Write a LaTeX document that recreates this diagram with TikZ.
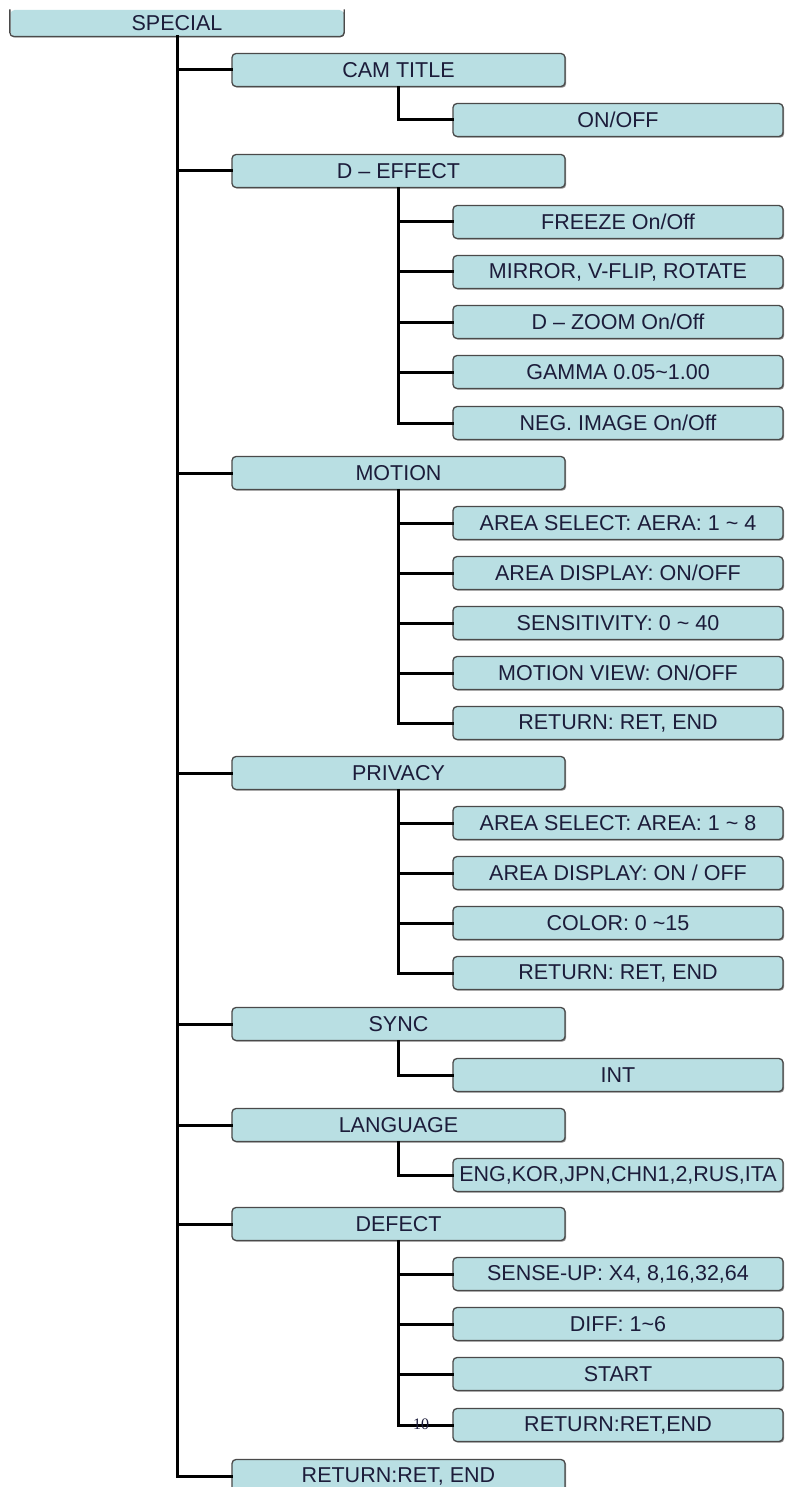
\documentclass[tikz,border=0pt]{standalone}
\usepackage{fontspec}
\setmainfont{Liberation Sans}
\newfontfamily\numfont{Liberation Serif}
\usetikzlibrary{calc,shadows}
\definecolor{boxfill}{HTML}{B9DFE3}
\definecolor{boxline}{HTML}{4A4A4A}
\definecolor{boxtext}{HTML}{1C1C3A}

\begin{document}
\begin{tikzpicture}[x=1pt,y=-1pt,
    menu/.style={rectangle,rounded corners=4pt,fill=boxfill,draw=boxline,line width=1.3pt,
      minimum height=33pt,inner sep=0pt,text=boxtext,font=\fontsize{21.5}{24}\selectfont,
      drop shadow={shadow xshift=1.2pt,shadow yshift=-1.2pt,fill=black!55,opacity=.8}},
    lvlone/.style={menu,minimum width=333pt},
    lvltwo/.style={menu,minimum width=330pt},
    link/.style={line width=3pt,line cap=rect}]
      \useasboundingbox (0,0) rectangle (785,1487);
      % root
      \node [menu,draw=none,minimum width=333pt,minimum height=26pt] (special) at (177,23) {SPECIAL};
      \draw [boxline,line width=1.3pt,rounded corners=4pt]
        (special.north west) -- (special.south west) -- (special.south east) -- (special.north east);
      % first level
      \node [lvlone] (cam)  at (398.5,  70) {CAM TITLE};
      \node [lvlone] (deff) at (398.5, 171) {D -- EFFECT};
      \node [lvlone] (mot)  at (398.5, 473) {MOTION};
      \node [lvlone] (priv) at (398.5, 773) {PRIVACY};
      \node [lvlone] (sync) at (398.5,1024) {SYNC};
      \node [lvlone] (lang) at (398.5,1125) {LANGUAGE};
      \node [lvlone] (dfct) at (398.5,1224) {DEFECT};
      \node [lvlone] (ret)  at (398.5,1476) {RETURN:RET, END};
      % second level
      \node [lvltwo] (camon) at (618, 120) {ON/OFF};
      \node [lvltwo] (frz)   at (618, 222) {FREEZE On/Off};
      \node [lvltwo] (mir)   at (618, 272) {MIRROR, V-FLIP, ROTATE};
      \node [lvltwo] (dzm)   at (618, 322) {D -- ZOOM On/Off};
      \node [lvltwo] (gam)   at (618, 372) {GAMMA 0.05\textasciitilde1.00};
      \node [lvltwo] (neg)   at (618, 423) {NEG. IMAGE On/Off};
      \node [lvltwo] (msel)  at (618, 523) {AREA SELECT: AERA: 1 \textasciitilde{} 4};
      \node [lvltwo] (mdisp) at (618, 573) {AREA DISPLAY: ON/OFF};
      \node [lvltwo] (msens) at (618, 623) {SENSITIVITY: 0 \textasciitilde{} 40};
      \node [lvltwo] (mview) at (618, 673) {MOTION VIEW: ON/OFF};
      \node [lvltwo] (mret)  at (618, 723) {RETURN: RET, END};
      \node [lvltwo] (psel)  at (618, 823) {AREA SELECT: AREA: 1 \textasciitilde{} 8};
      \node [lvltwo] (pdisp) at (618, 873) {AREA DISPLAY: ON / OFF};
      \node [lvltwo] (pcol)  at (618, 923) {COLOR: 0 \textasciitilde15};
      \node [lvltwo] (pret)  at (618, 973) {RETURN: RET, END};
      \node [lvltwo] (sint)  at (618,1075) {INT};
      \node [lvltwo] (lsel)  at (618,1175) {ENG,KOR,JPN,CHN1,2,RUS,ITA};
      \node [lvltwo] (dsen)  at (618,1274) {SENSE-UP: X4, 8,16,32,64};
      \node [lvltwo] (ddif)  at (618,1324) {DIFF: 1\textasciitilde6};
      \node [lvltwo] (dst)   at (618,1374) {START};
      \node [lvltwo] (dret)  at (618,1425) {RETURN:RET,END};
      % trunk and branches
      \draw [link] (special.south) |- (ret.west);
      \foreach \n in {cam,deff,mot,priv,sync,lang,dfct}
        \draw [link] (special.south |- \n.west) -- (\n.west);
      \draw [link] (cam.south) |- (camon.west);
      \foreach \n in {frz,mir,dzm,gam,neg}
        \draw [link] (deff.south) |- (\n.west);
      \foreach \n in {msel,mdisp,msens,mview,mret}
        \draw [link] (mot.south) |- (\n.west);
      \foreach \n in {psel,pdisp,pcol,pret}
        \draw [link] (priv.south) |- (\n.west);
      \draw [link] (sync.south) |- (sint.west);
      \draw [link] (lang.south) |- (lsel.west);
      \foreach \n in {dsen,ddif,dst,dret}
        \draw [link] (dfct.south) |- (\n.west);
      \node [font=\numfont\fontsize{16}{16}\selectfont,text=boxtext,inner sep=0pt] (ten) at (421,1424) {10};
\end{tikzpicture}
\end{document}
